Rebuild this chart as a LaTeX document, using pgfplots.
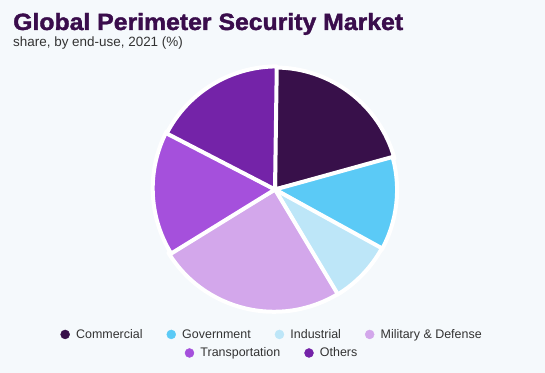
\documentclass[border=0pt]{standalone}
\usepackage{pgfplots}
\pgfplotsset{compat=1.18}
\usepackage{fontspec}
\setmainfont{Liberation Sans}
\font\titlefnt="Liberation Sans/B:embolden=1.6" at 23.5bp
\definecolor{bg}{HTML}{F5F9FC}
\definecolor{cCom}{HTML}{38104A}
\definecolor{cGov}{HTML}{5BCAF6}
\definecolor{cInd}{HTML}{BDE6F8}
\definecolor{cMil}{HTML}{D3A7EB}
\definecolor{cTra}{HTML}{A550DC}
\definecolor{cOth}{HTML}{7423A8}
\definecolor{titlec}{HTML}{3A0D4C}
\definecolor{subc}{HTML}{333333}
% shares (%) by end-use, 2021
\def\sCom{20.7}
\def\sGov{12.3}
\def\sInd{8.4}
\def\sMil{24.8}
\def\sTra{16.4}
\def\sOth{17.4}
\begin{document}
\begin{tikzpicture}
\fill[bg] (0,0) rectangle (545bp,373bp);
\pgfmathsetmacro\aA{90}
\pgfmathsetmacro\aB{\aA-3.6*\sCom}
\pgfmathsetmacro\aC{\aB-3.6*\sGov}
\pgfmathsetmacro\aD{\aC-3.6*\sInd}
\pgfmathsetmacro\aE{\aD-3.6*\sMil}
\pgfmathsetmacro\aF{\aE-3.6*\sTra}
\pgfmathsetmacro\aG{\aF-3.6*\sOth}
\node[anchor=base west, inner sep=0pt, text=titlec] at (13bp,343bp) {\scalebox{1.055}[1]{\titlefnt Global Perimeter Security Market}};
\node[anchor=base west, inner sep=0pt, text=subc, font=\fontsize{13.5}{16}\selectfont] at (13bp,326bp) {share, by end-use, 2021 (\%)};
\pgfplotsset{
  legend image code/.code={\fill[#1] (0bp,0bp) circle (4.5bp); \path[draw=none, fill=none] (-4.5bp,-1bp) rectangle (9bp,1bp);},
}
\begin{axis}[at={(275bp,183.5bp)}, anchor=center, x=122bp, y=122bp,
  xmin=-1, xmax=1, ymin=-1, ymax=1, hide axis, clip=false,
  legend columns=4,
  legend style={draw=none, fill=none, at={(0.488,-0.094)}, anchor=center,
    font=\fontsize{12.5}{14}\selectfont, text=subc,
    /tikz/every even column/.append style={column sep=22bp}},
  ]
\fill[cCom, draw=white, line width=4bp, line join=round] (axis cs:0,0) -- (axis cs:{cos(\aA)},{sin(\aA)}) arc[start angle=\aA, end angle=\aB, radius=124bp] -- cycle;
\fill[cGov, draw=white, line width=4bp, line join=round] (axis cs:0,0) -- (axis cs:{cos(\aB)},{sin(\aB)}) arc[start angle=\aB, end angle=\aC, radius=124bp] -- cycle;
\fill[cInd, draw=white, line width=4bp, line join=round] (axis cs:0,0) -- (axis cs:{cos(\aC)},{sin(\aC)}) arc[start angle=\aC, end angle=\aD, radius=124bp] -- cycle;
\fill[cMil, draw=white, line width=4bp, line join=round] (axis cs:0,0) -- (axis cs:{cos(\aD)},{sin(\aD)}) arc[start angle=\aD, end angle=\aE, radius=124bp] -- cycle;
\fill[cTra, draw=white, line width=4bp, line join=round] (axis cs:0,0) -- (axis cs:{cos(\aE)},{sin(\aE)}) arc[start angle=\aE, end angle=\aF, radius=124bp] -- cycle;
\fill[cOth, draw=white, line width=4bp, line join=round] (axis cs:0,0) -- (axis cs:{cos(\aF)},{sin(\aF)}) arc[start angle=\aF, end angle=\aG, radius=124bp] -- cycle;
\addlegendimage{cCom}\addlegendentry{Commercial}
\addlegendimage{cGov}\addlegendentry{Government}
\addlegendimage{cInd}\addlegendentry{Industrial}
\addlegendimage{cMil}\addlegendentry{Military \& Defense}
\end{axis}
\begin{axis}[at={(275bp,183.5bp)}, anchor=center, x=122bp, y=122bp,
  xmin=-1, xmax=1, ymin=-1, ymax=1, hide axis, clip=false,
  legend columns=2,
  legend style={draw=none, fill=none, at={(0.488,-0.170)}, anchor=center,
    font=\fontsize{12.5}{14}\selectfont, text=subc,
    /tikz/every even column/.append style={column sep=22bp}},
  ]
\addlegendimage{cTra}\addlegendentry{Transportation}
\addlegendimage{cOth}\addlegendentry{Others}
\end{axis}
\pgfresetboundingbox
\path (0,0) rectangle (545bp,373bp);
\end{tikzpicture}
\end{document}
